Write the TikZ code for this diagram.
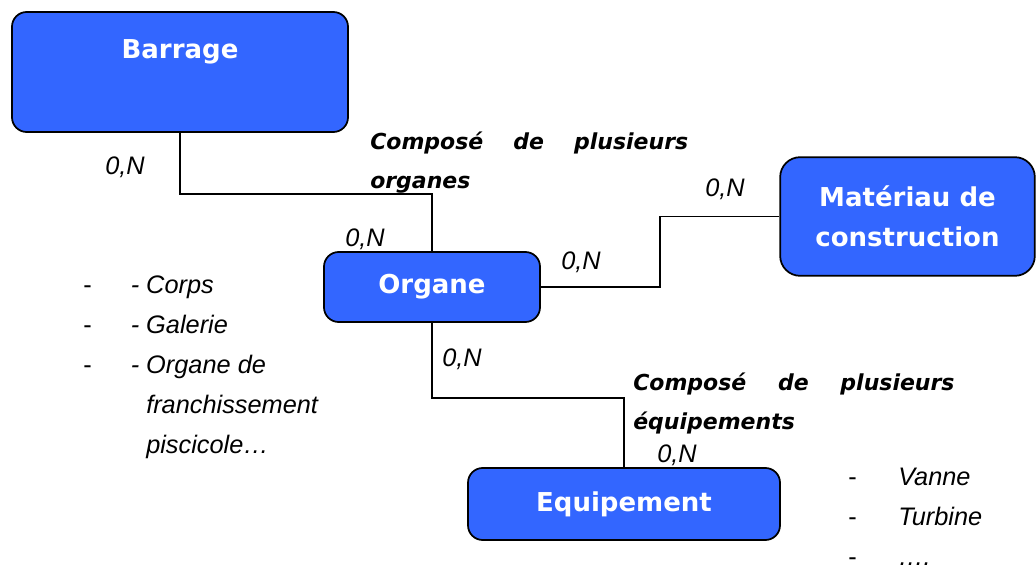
\documentclass[tikz,border=0pt]{standalone}
\usepackage{fontspec}
\setmainfont{Liberation Sans}
\newfontfamily\boxfont{DejaVu Sans}
\usetikzlibrary{positioning}

\definecolor{boxblue}{HTML}{3366FF}

\tikzset{
  entity/.style={draw=black, line width=1.3pt, fill=boxblue, rounded corners=11pt,
    text=white, font=\boxfont\bfseries\fontsize{19.5}{30}\selectfont, align=center, inner sep=0pt},
  entitytext/.style={text=white, font=\boxfont\bfseries\fontsize{19.5}{30}\selectfont, inner sep=0pt},
  card/.style={font=\itshape\fontsize{19}{30}\selectfont, inner sep=0pt, anchor=base west},
  assoc/.style={font=\boxfont\bfseries\itshape\fontsize{16.5}{29}\selectfont, inner sep=0pt,
    anchor=base west, align=left},
  listing/.style={font=\itshape\fontsize{19}{30}\selectfont, inner sep=0pt, anchor=base west, align=left},
  link/.style={line width=1.1pt}
}

\begin{document}
\begin{tikzpicture}[x=0.75pt,y=-0.75pt]

        \useasboundingbox (0,0) rectangle (1036,567);

        % entites
        \node[entity, minimum width=252pt, minimum height=90pt] (barrage) at (180,72) {};
        \node[entitytext, below=21pt of barrage.north] (barragelbl) {Barrage};
        \node[entity, minimum width=162pt, minimum height=52.5pt] (organe) at (432,287) {Organe};
        \node[entity, minimum width=191pt, minimum height=89pt, rounded corners=15pt] (materiau) at (907.5,216.5) {Matériau de\\construction};
        \node[entity, minimum width=234pt, minimum height=54pt] (equipement) at (624,504) {Equipement};

        % liens
        \draw[link] (barrage.south) -- ++(0,61) -| (organe.north);
        \draw[link] (organe.east) -- ++(119,0) |- (materiau.west);
        \draw[link] (organe.south) -- ++(0,75) -| (equipement.north);

        % cardinalites
        \node[card] (cardbarrage) at (105,175) {0,N};
        \node[card] (cardorganeA) at (345,246) {0,N};
        \node[card] (cardorganeB) at (561,269) {0,N};
        \node[card] (cardmateriau) at (705,196) {0,N};
        \node[card] (cardorganeC) at (442,366) {0,N};
        \node[card] (cardequip) at (657,462) {0,N};

        % associations (base = derniere ligne)
        \node[assoc] (composeorg) at (370,188) {\makebox[238.5pt][l]{Composé\hfill de\hfill plusieurs}\\organes};
        \node[assoc] (composeequ) at (633,429) {\makebox[241pt][l]{Composé\hfill de\hfill plusieurs}\\équipements};

        % exemples
        \node[listing, font=\upshape\fontsize{19}{30}\selectfont] (dashorg) at (83,373) {-\\-\\-};
        \node[listing] (organelist) at (146,453) {\llap{- }Corps\\\llap{- }Galerie\\\llap{- }Organe de\\franchissement\\piscicole…};
        \node[listing, font=\upshape\fontsize{19}{30}\selectfont] (dashequ) at (848,565) {-\\-\\-};
        \node[listing] (equiplist) at (898,565) {Vanne\\Turbine\\….};

\end{tikzpicture}
\end{document}
